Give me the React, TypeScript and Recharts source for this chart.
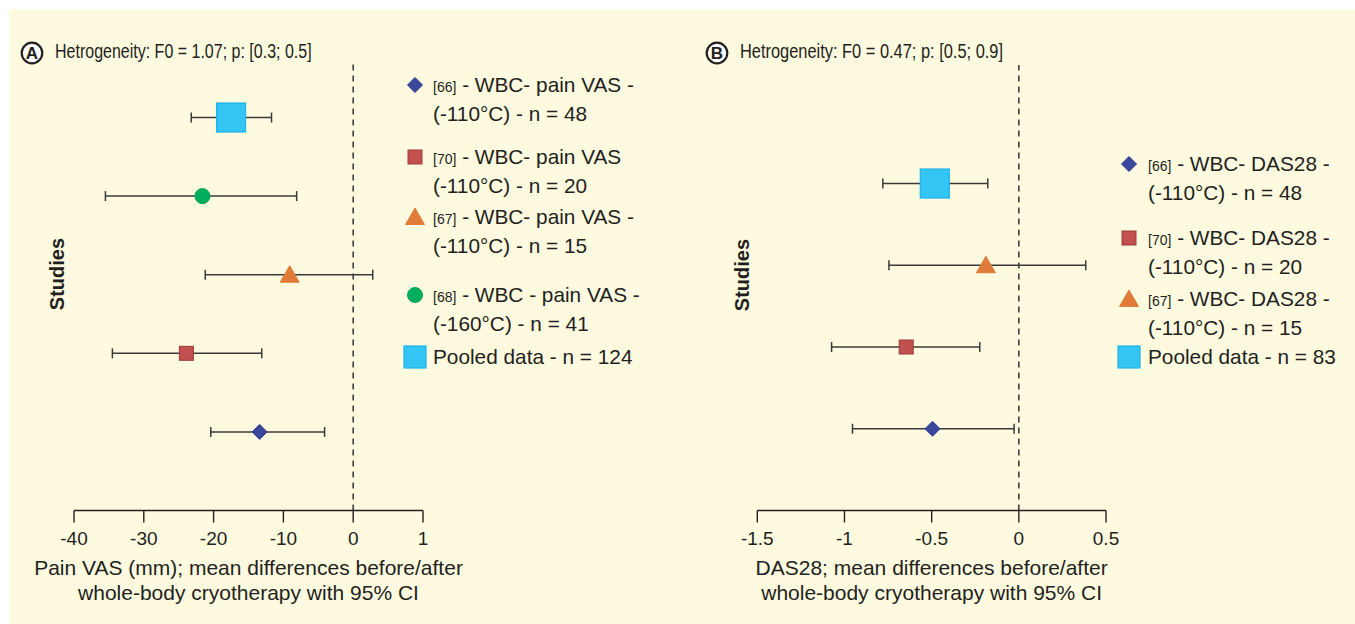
import React from 'react'
import {
  ScatterChart,
  Scatter,
  XAxis,
  YAxis,
  ErrorBar,
  ReferenceLine,
  Label,
} from 'recharts'

// Panel A: pain VAS, rows bottom -> top
const painRefs = ['[66]', '[70]', '[67]', '[68]', '']
const painText = [' - WBC- pain VAS -', ' - WBC- pain VAS', ' - WBC- pain VAS -', ' - WBC - pain VAS -', 'Pooled data - n = 124']
const painLine2 = ['(-110°C) - n = 48', '(-110°C) - n = 20', '(-110°C) - n = 15', '(-160°C) - n = 41', '']
const painMean = [-13.4, -23.9, -9.1, -21.6, -17.5]
const painLow = [-20.4, -34.5, -21.2, -35.5, -23.2]
const painHigh = [-4.1, -13.1, 2.8, -8.1, -11.7]
const painTicks = [-40, -30, -20, -10, 0, 10]
const painTickLabels = ['-40', '-30', '-20', '-10', '0', '1']
const painTitle = 'Hetrogeneity: F0 = 1.07; p: [0.3; 0.5]'
const painAxisTitle = ['Pain VAS (mm); mean differences before/after', 'whole-body cryotherapy with 95% CI']

// Panel B: DAS28
const dasRefs = ['[66]', '[70]', '[67]', '']
const dasText = [' - WBC- DAS28 -', ' - WBC- DAS28 -', ' - WBC- DAS28 -', 'Pooled data - n = 83']
const dasLine2 = ['(-110°C) - n = 48', '(-110°C) - n = 20', '(-110°C) - n = 15', '']
const dasMean = [-0.495, -0.646, -0.189, -0.482]
const dasLow = [-0.954, -1.074, -0.745, -0.78]
const dasHigh = [-0.027, -0.224, 0.384, -0.178]
const dasTicks = [-1.5, -1, -0.5, 0, 0.5]
const dasTickLabels = ['-1.5', '-1', '-0.5', '0', '0.5']
const dasTitle = 'Hetrogeneity: F0 = 0.47; p: [0.5; 0.9]'
const dasAxisTitle = ['DAS28; mean differences before/after', 'whole-body cryotherapy with 95% CI']

const FONT = '"Liberation Sans", Arial, Helvetica, sans-serif'
const INK = '#231F20'
const BG = '#FEFADF'

const MARKS: Record<string, { fill: string; stroke: string }> = {
  diamond: { fill: '#3B479C', stroke: '#2E3A8C' },
  square: { fill: '#C1504E', stroke: '#9E3A3A' },
  triangle: { fill: '#E07B39', stroke: '#E07B39' },
  circle: { fill: '#00AE5E', stroke: '#00A456' },
  pooled: { fill: '#33C6F5', stroke: '#1DB2E8' },
}

const kindsA = ['diamond', 'square', 'triangle', 'circle', 'pooled']
const kindsB = ['diamond', 'square', 'triangle', 'pooled']

function Marker({ kind, cx, cy, legend = false }: { kind: string; cx: number; cy: number; legend?: boolean }) {
  const { fill, stroke } = MARKS[kind]
  if (kind === 'diamond') {
    const r = 7.5
    return <polygon points={`${cx},${cy - r} ${cx + r},${cy} ${cx},${cy + r} ${cx - r},${cy}`} fill={fill} stroke={stroke} strokeWidth={1} />
  }
  if (kind === 'square') {
    const s = 14
    return <rect x={cx - s / 2} y={cy - s / 2} width={s} height={s} fill={fill} stroke={stroke} strokeWidth={1} />
  }
  if (kind === 'triangle') {
    return <polygon points={`${cx},${cy - 9} ${cx + 9.5},${cy + 7.5} ${cx - 9.5},${cy + 7.5}`} fill={fill} stroke={stroke} strokeWidth={1} />
  }
  if (kind === 'circle') {
    return <circle cx={cx} cy={cy} r={7.5} fill={fill} stroke={stroke} strokeWidth={1} />
  }
  const s = legend ? 22 : 29
  return <rect x={cx - s / 2} y={cy - s / 2} width={s} height={s} fill={fill} stroke={stroke} strokeWidth={1.2} />
}

function AxisTitle({ viewBox, lines }: any) {
  const cx = viewBox.x + viewBox.width / 2
  return (
    <text textAnchor="middle" fill={INK} fontSize={21} fontFamily={FONT}>
      <tspan x={cx} y={viewBox.y + 64}>{lines[0]}</tspan>
      <tspan x={cx} y={viewBox.y + 89}>{lines[1]}</tspan>
    </text>
  )
}

type PanelProps = {
  left: number
  width: number
  margin: { top: number; right: number; bottom: number; left: number }
  domainX: [number, number]
  domainY: [number, number]
  ticks: number[]
  tickLabels: string[]
  mean: number[]
  low: number[]
  high: number[]
  kinds: string[]
  axisTitle: string[]
}

function ForestPanel(p: PanelProps) {
  const rows = p.mean.map((m, i) => ({ x: m, y: i + 1, err: [m - p.low[i], p.high[i] - m] }))
  return (
    <div style={{ position: 'absolute', left: p.left, top: 0 }}>
      <ScatterChart width={p.width} height={624} margin={p.margin}>
        <XAxis
          type="number"
          dataKey="x"
          domain={p.domainX}
          ticks={p.ticks}
          tickFormatter={(v) => p.tickLabels[p.ticks.indexOf(v)]}
          interval={0}
          height={80}
          tickSize={12}
          tickMargin={9}
          axisLine={{ stroke: INK, strokeWidth: 1.4 }}
          tickLine={{ stroke: INK, strokeWidth: 1.4 }}
          tick={{ fill: INK, fontSize: 19, fontFamily: FONT }}
        >
          <Label content={(props: any) => <AxisTitle {...props} lines={p.axisTitle} />} />
        </XAxis>
        <YAxis type="number" dataKey="y" domain={p.domainY} hide width={0} />
        <ReferenceLine x={0} stroke="#333" strokeWidth={1.5} strokeDasharray="6 5" />
        {rows.map((r, i) => (
          <Scatter
            key={i}
            data={[r]}
            isAnimationActive={false}
            shape={(s: any) => <Marker kind={p.kinds[i]} cx={s.cx} cy={s.cy} />}
          >
            <ErrorBar dataKey="err" direction="x" width={5} stroke="#3a3a3a" strokeWidth={1.5} />
          </Scatter>
        ))}
      </ScatterChart>
    </div>
  )
}

type LegendProps = {
  markerX: number
  textX: number
  centers: number[]
  refs: string[]
  text: string[]
  line2: string[]
  kinds: string[]
}

function LegendBlock(l: LegendProps) {
  return (
    <>
      <svg style={{ position: 'absolute', left: 0, top: 0 }} width={1355} height={624}>
        {l.kinds.map((k, i) => (
          <Marker key={i} kind={k} cx={l.markerX} cy={l.centers[i]} legend />
        ))}
      </svg>
      {l.text.map((t, i) => (
        <div
          key={i}
          style={{
            position: 'absolute',
            left: l.textX,
            top: l.centers[i] - 13,
            fontSize: 20.8,
            lineHeight: '25.5px',
            color: INK,
            whiteSpace: 'nowrap',
          }}
        >
          {l.refs[i] && <span style={{ fontSize: 14 }}>{l.refs[i]}</span>}
          {t}
          {l.line2[i] && (
            <>
              <br />
              {l.line2[i]}
            </>
          )}
        </div>
      ))}
    </>
  )
}

function Heading({ cx, letter, textX, title, squeeze }: { cx: number; letter: string; textX: number; title: string; squeeze: number }) {
  return (
    <>
      <svg style={{ position: 'absolute', left: cx - 13, top: 40 }} width={26} height={26}>
        <circle cx={13} cy={13} r={10.3} fill="#fff" stroke={INK} strokeWidth={2.2} />
        <text x={13} y={19.3} textAnchor="middle" fontSize={17} fontWeight="bold" fill={INK} fontFamily={FONT}>
          {letter}
        </text>
      </svg>
      <div
        style={{
          position: 'absolute',
          left: textX,
          top: 39,
          fontSize: 20,
          lineHeight: '24px',
          color: INK,
          whiteSpace: 'nowrap',
          transform: `scaleX(${squeeze})`,
          transformOrigin: 'left top',
        }}
      >
        {title}
      </div>
    </>
  )
}

export default function App() {
  return (
    <div style={{ position: 'absolute', left: 0, top: 0, width: 1355, height: 624, background: '#fff', fontFamily: FONT, overflow: 'hidden' }}>
      <div style={{ position: 'absolute', left: 9, top: 9, right: 0, bottom: 0, background: BG }} />

      <ForestPanel
        left={0}
        width={680}
        margin={{ top: 62.5, right: 257, bottom: 33.5, left: 74 }}
        domainX={[-40, 10]}
        domainY={[0, 5.7]}
        ticks={painTicks}
        tickLabels={painTickLabels}
        mean={painMean}
        low={painLow}
        high={painHigh}
        kinds={kindsA}
        axisTitle={painAxisTitle}
      />
      <ForestPanel
        left={680}
        width={675}
        margin={{ top: 65, right: 249, bottom: 33.5, left: 77.3 }}
        domainX={[-1.5, 0.5]}
        domainY={[0, 5.45]}
        ticks={dasTicks}
        tickLabels={dasTickLabels}
        mean={dasMean}
        low={dasLow}
        high={dasHigh}
        kinds={kindsB}
        axisTitle={dasAxisTitle}
      />

      <svg style={{ position: 'absolute', left: 0, top: 0 }} width={1355} height={624} fontFamily={FONT}>
        <text transform="translate(64,274) rotate(-90)" textAnchor="middle" fontSize={20} fontWeight="bold" fill={INK}>
          Studies
        </text>
        <text transform="translate(749,275) rotate(-90)" textAnchor="middle" fontSize={20} fontWeight="bold" fill={INK}>
          Studies
        </text>
      </svg>

      <Heading cx={32} letter="A" textX={55} title={painTitle} squeeze={0.8} />
      <Heading cx={717} letter="B" textX={740} title={dasTitle} squeeze={0.82} />

      <LegendBlock
        markerX={415}
        textX={433}
        centers={[85, 157, 217, 295, 357]}
        refs={painRefs}
        text={painText}
        line2={painLine2}
        kinds={kindsA}
      />
      <LegendBlock
        markerX={1129}
        textX={1148}
        centers={[164, 238, 299, 357]}
        refs={dasRefs}
        text={dasText}
        line2={dasLine2}
        kinds={kindsB}
      />
    </div>
  )
}
